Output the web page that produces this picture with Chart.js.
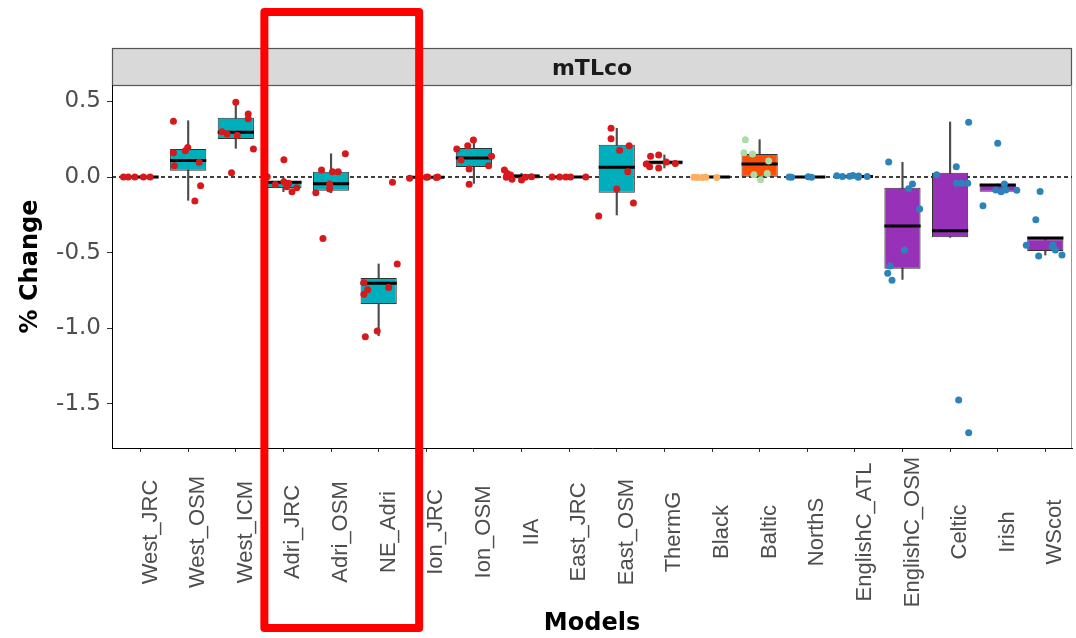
<!DOCTYPE html>
<html><head><meta charset="utf-8">
<script src="https://cdn.jsdelivr.net/npm/chart.js@4/dist/chart.umd.min.js"></script>
<style>html,body{margin:0;padding:0;background:#fff;}canvas{display:block;}</style>
</head><body>
<canvas id="c" width="1076" height="638"></canvas>
<script>
// ---- data ----
const categories = ['West_JRC','West_OSM','West_ICM','Adri_JRC','Adri_OSM','NE_Adri','Ion_JRC','Ion_OSM','IIA','East_JRC','East_OSM','ThermG','Black','Baltic','NorthS','EnglishC_ATL','EnglishC_OSM','Celtic','Irish','WScot'];
const boxGroup   = ['Med','Med','Med','Med','Med','Med','Med','Med','Med','Med','Med','Med','BlackBaltic','BlackBaltic','Atl','Atl','Atl','Atl','Atl','Atl'];
const pointGroup = ['Med','Med','Med','Med','Med','Med','Med','Med','Med','Med','Med','Med','Black','Baltic','Atl','Atl','Atl','Atl','Atl','Atl'];
const q1          = [0, 0.042, 0.251, -0.073, -0.091, -0.840, -0.004, 0.066, -0.009, 0, -0.104, 0.082, 0, 0.002, 0, 0.002, -0.606, -0.399, -0.097, -0.489];
const median      = [0, 0.110, 0.296, -0.035, -0.044, -0.703, -0.001, 0.126,  0.005, 0,  0.064, 0.097, 0, 0.086, 0, 0.004, -0.324, -0.355, -0.053, -0.404];
const q3          = [0, 0.185, 0.392, -0.026,  0.035, -0.668,  0.000, 0.192,  0.018, 0,  0.214, 0.108, 0, 0.152, 0, 0.008, -0.071,  0.029, -0.049, -0.412];
const whiskerLow  = [0,-0.154, 0.190, -0.097, -0.104, -1.050, -0.010,-0.042, -0.020, 0, -0.251, 0.060, 0,-0.018, 0,-0.001, -0.677, -0.399, -0.097, -0.516];
const whiskerHigh = [0, 0.372, 0.487,  0.000,  0.154, -0.575,  0.000, 0.245,  0.024, 0,  0.322, 0.146, 0, 0.247, 0, 0.010,  0.097,  0.364, -0.046, -0.412];
const pointDx = [
  [-0.36,-0.26,-0.12,0.06,0.2],
  [-0.31,-0.31,-0.29,-0.06,-0.01,0.23,0.26,0.14],
  [0.0,0.26,0.26,-0.29,-0.18,0.03,0.37,-0.09],
  [-0.34,0.01,-0.17,0.01,0.07,0.11,0.18,0.28],
  [-0.2,0.03,0.15,0.3,-0.32,-0.03,-0.03,-0.17],
  [-0.31,-0.23,-0.31,0.21,0.39,-0.28,-0.03,0.29],
  [-0.35,0.0,0.03,0.21,0.24],
  [-0.36,-0.13,-0.01,-0.27,0.37,0.31,-0.1,-0.1],
  [-0.36,-0.3,-0.23,-0.32,-0.2,0.0,0.08,0.21],
  [-0.36,-0.2,-0.07,0.03,0.35],
  [-0.12,-0.12,0.06,0.26,0.23,0.0,0.35,-0.38],
  [-0.29,-0.12,-0.38,-0.31,-0.12,0.04,0.23],
  [-0.38,-0.3,-0.2,-0.13,0.1],
  [-0.3,-0.33,-0.15,0.19,-0.12,0.16,0.02],
  [-0.38,-0.33,0.02,0.09],
  [-0.38,-0.26,-0.11,-0.04,0.08,0.26,0.07],
  [-0.29,0.21,0.13,0.36,0.04,-0.26,-0.31,-0.22],
  [0.39,0.13,-0.28,0.13,0.24,0.37,0.18,0.39],
  [0.0,-0.31,-0.04,0.07,0.17,0.14,0.4],
  [-0.11,-0.2,-0.4,-0.14,0.14,0.21,0.35,0.16]
];
const pointY = [
  [0,0,0,0,0],
  [0.368,0.161,0.075,0.174,0.196,0.097,-0.057,-0.159],
  [0.494,0.417,0.386,0.30,0.284,0.276,0.185,0.029],
  [0.002,0.115,-0.049,-0.031,-0.064,-0.042,-0.097,-0.071],
  [0.046,0.035,0.035,0.154,-0.104,-0.046,-0.079,-0.406],
  [-0.699,-0.745,-0.776,-0.73,-0.575,-1.056,-1.018,-0.035],
  [-0.008,-0.002,0.0,-0.003,0.0],
  [0.185,0.207,0.245,0.112,0.137,0.075,0.053,-0.048],
  [0.046,0.024,0.013,-0.002,-0.015,-0.02,-0.002,0.002],
  [0,0,0,0,0],
  [0.322,0.253,0.177,0.207,0.035,-0.079,-0.172,-0.258],
  [0.137,0.146,0.086,0.068,0.06,0.1,0.09],
  [-0.002,-0.004,-0.003,-0.001,-0.004],
  [0.247,0.161,0.152,0.106,0.015,0.024,-0.018],
  [0.0,-0.002,0.002,-0.001],
  [0.008,0.004,0.005,0.01,0.006,0.004,-0.001],
  [0.099,-0.046,-0.077,-0.212,-0.483,-0.589,-0.637,-0.683],
  [0.362,0.068,0.015,-0.042,-0.042,-0.042,-1.475,-1.691],
  [0.223,-0.19,-0.086,-0.097,-0.086,-0.046,-0.088],
  [-0.095,-0.282,-0.452,-0.522,-0.461,-0.483,-0.516,-0.45]
];
const yTickValues = [-1.5, -1.0, -0.5, 0.0, 0.5];
const yMin = -1.792, yMax = 0.6085;
const xMin = -0.6, xMax = 19.56;
const facetLabel = 'mTLco';
const xTitle = 'Models';
const yTitle = '% Change';
const highlightRange = [2.6, 5.85];   // category-axis span of the red highlight frame

// ---- styles ----
const boxFill = { Med: '#00AFBB', BlackBaltic: '#FC4E07', Atl: '#9631B8' };
const pointColor = { Med: '#D7191C', Black: '#FDAE61', Baltic: '#ABDDA4', Atl: '#2B83BA' };

const boxData = categories.map((c, i) => ({ x: i, y: [q1[i], q3[i]] }));
const whiskerData = categories.map((c, i) => ({ x: i, y: [whiskerLow[i], whiskerHigh[i]] }));
const medianData = categories.map((c, i) => ({ x: i, y: median[i] }));
const pointData = [];
const pointColors = [];
categories.forEach((c, i) => {
  pointY[i].forEach((v, k) => {
    pointData.push({ x: i + pointDx[i][k], y: v });
    pointColors.push(pointColor[pointGroup[i]]);
  });
});

const stripPlugin = {
  id: 'strip',
  beforeDraw(chart) {
    const { ctx, chartArea } = chart;
    const top = chart.options.layout.padding.top;
    ctx.save();
    ctx.fillStyle = '#D9D9D9';
    ctx.fillRect(chartArea.left, top, chartArea.right - chartArea.left, chartArea.top - top);
    ctx.strokeStyle = '#555';
    ctx.lineWidth = 1.2;
    ctx.strokeRect(chartArea.left + 0.5, top + 0.5, chartArea.right - chartArea.left - 1, chartArea.top - top);
    ctx.strokeStyle = '#9a9a9a';
    ctx.lineWidth = 1;
    ctx.beginPath();
    ctx.moveTo(chartArea.right - 0.5, chartArea.top);
    ctx.lineTo(chartArea.right - 0.5, chartArea.bottom);
    ctx.stroke();
    ctx.restore();
  }
};

const xLabelPlugin = {
  id: 'xLabels',
  afterDraw(chart) {
    const { ctx, chartArea } = chart;
    const xs = chart.scales.x;
    ctx.save();
    ctx.fillStyle = '#4D4D4D';
    ctx.font = '22px "Liberation Sans", Arial, sans-serif';
    ctx.textAlign = 'center';
    ctx.textBaseline = 'middle';
    categories.forEach((c, i) => {
      const px = xs.getPixelForValue(i);
      ctx.save();
      ctx.translate(px + 10, chartArea.bottom + 84);
      ctx.rotate(-Math.PI / 2);
      ctx.fillText(c, 0, 0);
      ctx.restore();
    });
    ctx.restore();
  }
};

const highlightPlugin = {
  id: 'highlight',
  afterDraw(chart) {
    const { ctx } = chart;
    const xs = chart.scales.x;
    const l = xs.getPixelForValue(highlightRange[0]);
    const r = xs.getPixelForValue(highlightRange[1]);
    ctx.save();
    ctx.strokeStyle = '#FF0000';
    ctx.lineWidth = 8;
    ctx.lineJoin = 'round';
    ctx.strokeRect(l, 12, r - l, 616);
    ctx.restore();
  }
};

Chart.defaults.font.family = '"DejaVu Sans", sans-serif';

new Chart(document.getElementById('c'), {
  type: 'bar',
  data: {
    datasets: [
      {
        type: 'line', data: [{ x: xMin, y: 0 }, { x: xMax, y: 0 }],
        borderColor: '#000', borderWidth: 1.3, borderDash: [4, 3], pointRadius: 0, order: 5
      },
      {
        type: 'bar', data: whiskerData, backgroundColor: '#4D4D4D', borderWidth: 0,
        barThickness: 1.5, grouped: false, order: 4
      },
      {
        type: 'bar', data: boxData,
        backgroundColor: categories.map((c, i) => boxFill[boxGroup[i]]),
        borderColor: '#333333', borderWidth: 1, borderSkipped: false,
        barPercentage: 0.76, categoryPercentage: 1, grouped: false, order: 3
      },
      {
        type: 'scatter', data: medianData, pointStyle: 'line',
        pointRadius: (ctx) => {
          const s = ctx.chart.scales.x;
          return s.getPixelForValue(0.38) - s.getPixelForValue(0);
        },
        pointBorderWidth: 3, pointBorderColor: '#000', pointBackgroundColor: '#000', order: 2
      },
      {
        type: 'scatter', data: pointData, pointRadius: 3.5, pointBorderWidth: 0,
        pointBackgroundColor: pointColors, pointBorderColor: pointColors, order: 1
      }
    ]
  },
  options: {
    responsive: false,
    animation: false,
    events: [],
    layout: { padding: { top: 48, right: 1, bottom: 0, left: 0 } },
    plugins: {
      legend: { display: false },
      tooltip: { enabled: false },
      title: {
        display: true, text: facetLabel, fullSize: false,
        font: { size: 22, weight: 'bold', family: '"DejaVu Sans", sans-serif' },
        color: '#1A1A1A', padding: { top: 8.3, bottom: 2.3 }
      }
    },
    scales: {
      x: {
        type: 'linear', min: xMin, max: xMax, offset: false,
        afterBuildTicks: (s) => { s.ticks = categories.map((c, i) => ({ value: i })); },
        afterFit: (s) => { s.height = 190; },
        ticks: { display: false },
        grid: { display: true, drawOnChartArea: false, offset: false, tickLength: 4, color: '#333', tickWidth: 1 },
        border: { display: true, color: '#000', width: 1 },
        title: {
          display: true, text: xTitle, color: '#000',
          font: { size: 24, weight: 'bold', family: '"DejaVu Sans", sans-serif' },
          padding: { top: 0, bottom: 0 }
        }
      },
      y: {
        type: 'linear', min: yMin, max: yMax,
        afterBuildTicks: (s) => { s.ticks = yTickValues.map(v => ({ value: v })); },
        afterFit: (s) => { s.width = 112; },
        ticks: {
          color: '#4D4D4D', padding: 6,
          font: { size: 23, family: '"DejaVu Sans", sans-serif' },
          callback: (v) => Number(v).toFixed(1)
        },
        grid: { display: true, drawOnChartArea: false, tickLength: 5, color: '#333' },
        border: { display: true, color: '#000', width: 1 },
        title: {
          display: true, text: yTitle, color: '#000',
          font: { size: 24, weight: 'bold', family: '"DejaVu Sans", sans-serif' },
          padding: { top: 16, bottom: 0 }
        }
      }
    }
  },
  plugins: [stripPlugin, xLabelPlugin, highlightPlugin]
});
</script>
</body></html>
